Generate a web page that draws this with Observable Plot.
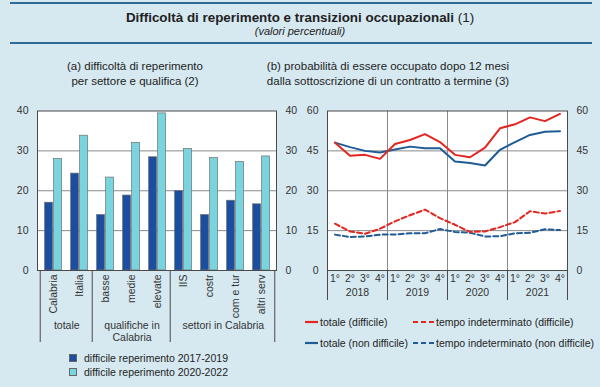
<!DOCTYPE html>
<html>
<head>
<meta charset="utf-8">
<script src="https://cdn.jsdelivr.net/npm/d3@7"></script>
<script src="https://cdn.jsdelivr.net/npm/@observablehq/plot@0.6"></script>
<style>
  html, body { margin: 0; padding: 0; }
  body { width: 600px; height: 387px; background: #d6e9f1; position: relative; overflow: hidden;
         font-family: "Liberation Sans", Arial, sans-serif; color: #222; }
  .hline { position: absolute; left: 10px; width: 582px; height: 2px; background: #2c6b99; }
  .title { position: absolute; left: 0; width: 600px; text-align: center; font-size: 13.4px; top: 10px; }
  .sub { position: absolute; left: 0; width: 600px; text-align: center; font-size: 11px; font-style: italic; top: 25px; }
  .ptitle { position: absolute; transform: translateX(-50%); white-space: nowrap; text-align: center; font-size: 11.5px; line-height: 14.5px; }
  .leg { position: absolute; font-size: 10.5px; white-space: nowrap; display: flex; align-items: center; }
  .sq { width: 6px; height: 6px; border: 0.8px solid #666; margin-right: 7px; }
  #a { position: absolute; left: 0; top: 100px; }
  #b { position: absolute; left: 300px; top: 100px; }
</style>
</head>
<body>
<div class="hline" style="top:2px"></div>
<div class="title"><b>Difficoltà di reperimento e transizioni occupazionali</b> (1)</div>
<div class="sub">(valori percentuali)</div>
<div class="hline" style="top:42px"></div>
<div class="ptitle" style="left:135px; top:59px">(a) difficoltà di reperimento<br>per settore e qualifica (2)</div>
<div class="ptitle" style="left:388px; top:59px">(b) probabilità di essere occupato dopo 12 mesi<br>dalla sottoscrizione di un contratto a termine (3)</div>
<div id="a"></div>
<div id="b"></div>
<div id="legA"></div>
<div id="legB"></div>
<script>
// ---------- DATA ----------
const categories = ["Calabria", "Italia", "basse", "medie", "elevate", "IIS", "costr", "com e tur", "altri serv"];
const groupNames = ["totale", "qualifiche in\nCalabria", "settori in Calabria"];
const groupSizes = [2, 3, 4];
const seriesA = ["difficile reperimento 2017-2019", "difficile reperimento 2020-2022"];
const values2017_2019 = [17.0, 24.3, 13.9, 18.8, 28.4, 19.9, 13.9, 17.5, 16.6];
const values2020_2022 = [28.0, 33.8, 23.3, 32.0, 39.4, 30.5, 28.2, 27.2, 28.6];
const ticksA = [0, 10, 20, 30, 40];

const years = ["2018", "2019", "2020", "2021"];
const quarters = ["1°", "2°", "3°", "4°"];
const seriesB = ["totale (difficile)", "tempo indeterminato (difficile)", "totale (non difficile)", "tempo indeterminato (non difficile)"];
const totaleDifficile = [48.1, 43.2, 43.5, 42.0, 47.6, 49.1, 51.3, 48.3, 43.5, 42.6, 46.2, 53.5, 55.0, 57.6, 56.2, 58.9];
const totaleNonDifficile = [48.1, 46.4, 45.0, 44.4, 45.5, 46.6, 46.0, 46.0, 41.0, 40.4, 39.5, 45.4, 48.3, 51.0, 52.2, 52.4];
const indetDifficile = [17.6, 14.7, 13.8, 15.7, 18.5, 20.8, 22.9, 19.7, 17.2, 14.5, 14.7, 16.3, 18.2, 22.3, 21.4, 22.4];
const indetNonDifficile = [13.5, 12.6, 12.8, 13.5, 13.5, 14.0, 14.0, 15.6, 14.5, 14.2, 12.8, 12.9, 14.0, 14.2, 15.5, 15.2];
const ticksB = [0, 15, 30, 45, 60];

// ---------- STYLE ----------
const darkBar = "#1b4ea1", lightBar = "#78d5e0", barStroke = "#6f6f6f";
const red = "#e3261f", blue = "#1f5b94";
const gridColor = "#8a8a8a", frameColor = "#4a4a4a";
const font = { background: "transparent", fontFamily: "'Liberation Sans', Arial, sans-serif", fontSize: "10.5px", color: "#333" };

// ---------- CHART A ----------
{
  const W = 300, H = 250, mL = 37, mR = 24, mT = 10.5, mB = 80;
  const step = (W - mL - mR) / categories.length;
  const plotH = H - mT - mB;
  const rows = categories.map((c, i) => ({ cat: c, v1: values2017_2019[i], v2: values2020_2022[i] }));
  const firsts = [];
  let k = 0;
  groupSizes.forEach((n, gi) => { firsts.push({ cat: categories[k], n, name: groupNames[gi] }); k += n; });
  const sepMarks = [
    Plot.ruleX(firsts, { x: "cat", dx: -step / 2, stroke: frameColor, strokeWidth: 1, insetTop: plotH, insetBottom: -72 }),
    Plot.ruleX([categories[categories.length - 1]], { x: d => d, dx: step / 2, stroke: frameColor, strokeWidth: 1, insetTop: plotH, insetBottom: -72 })
  ];
  const groupLabels = firsts.map(g => Plot.text([g], {
    x: "cat", text: "name", dx: step * (g.n - 1) / 2, frameAnchor: "bottom", dy: 50,
    lineAnchor: "top", lineHeight: 1.15, fill: "#333", fontSize: 10.5
  }));
  const chart = Plot.plot({
    width: W, height: H, marginLeft: mL, marginRight: mR, marginTop: mT, marginBottom: mB,
    style: font,
    x: { type: "band", domain: categories, padding: 0, label: null },
    y: { domain: [0, 40], label: null },
    marks: [
      Plot.frame({ fill: "white" }),
      Plot.gridY(ticksA.slice(1, -1), { stroke: gridColor, strokeOpacity: 1 }),
      Plot.barY(rows, { x: "cat", y: "v1", fill: darkBar, stroke: barStroke, strokeWidth: 0.7, insetLeft: 4.6, insetRight: step - 13.1 }),
      Plot.barY(rows, { x: "cat", y: "v2", fill: lightBar, stroke: barStroke, strokeWidth: 0.7, insetLeft: 13.6, insetRight: step - 22.1 }),
      Plot.frame({ stroke: frameColor }),
      Plot.axisY(ticksA, { anchor: "left", tickSize: 0, tickPadding: 9, label: null }),
      Plot.axisY(ticksA, { anchor: "right", tickSize: 0, tickPadding: 9, label: null }),
      Plot.axisX({ tickRotate: -90, tickSize: 0, tickPadding: 4, label: null }),
      ...sepMarks,
      ...groupLabels
    ]
  });
  document.getElementById("a").appendChild(chart);
}

// ---------- CHART B ----------
{
  const W = 300, H = 205, mL = 27, mR = 33, mT = 10.5, mB = 35;
  const periods = years.flatMap(y => quarters.map(q => y + " " + q));
  const step = (W - mL - mR) / periods.length;
  const plotH = H - mT - mB;
  const toRows = arr => periods.map((p, i) => ({ p, v: arr[i] }));
  const yearFirst = years.map(y => y + " " + quarters[0]);
  const chart = Plot.plot({
    width: W, height: H, marginLeft: mL, marginRight: mR, marginTop: mT, marginBottom: mB,
    style: font,
    x: { type: "band", domain: periods, padding: 0, label: null },
    y: { domain: [0, 60], label: null },
    marks: [
      Plot.frame({ fill: "white" }),
      Plot.gridY(ticksB.slice(1, -1), { stroke: gridColor, strokeOpacity: 1 }),
      Plot.ruleX(yearFirst.slice(1), { x: d => d, dx: -step / 2, stroke: gridColor }),
      Plot.line(toRows(indetNonDifficile), { x: "p", y: "v", stroke: blue, strokeWidth: 2, strokeDasharray: "5,3" }),
      Plot.line(toRows(indetDifficile), { x: "p", y: "v", stroke: red, strokeWidth: 2, strokeDasharray: "5,3" }),
      Plot.line(toRows(totaleNonDifficile), { x: "p", y: "v", stroke: blue, strokeWidth: 2 }),
      Plot.line(toRows(totaleDifficile), { x: "p", y: "v", stroke: red, strokeWidth: 2 }),
      Plot.frame({ stroke: frameColor }),
      Plot.axisY(ticksB, { anchor: "left", tickSize: 0, tickPadding: 9, label: null }),
      Plot.axisY(ticksB, { anchor: "right", tickSize: 0, tickPadding: 9, label: null }),
      Plot.axisX({ tickSize: 0, tickPadding: 4, tickFormat: d => d.split(" ")[1], label: null }),
      Plot.ruleX(yearFirst, { x: d => d, dx: -step / 2, stroke: frameColor, insetTop: plotH, insetBottom: -30 }),
      Plot.ruleX([periods[periods.length - 1]], { x: d => d, dx: step / 2, stroke: frameColor, insetTop: plotH, insetBottom: -30 }),
      Plot.text(years, { x: d => d + " " + quarters[1], text: d => d, dx: step / 2, frameAnchor: "bottom", dy: 18, lineAnchor: "top", fill: "#333", fontSize: 10.5 })
    ]
  });
  document.getElementById("b").appendChild(chart);
}

// ---------- LEGENDS ----------
{
  const la = document.getElementById("legA");
  [darkBar, lightBar].forEach((c, i) => {
    const d = document.createElement("div");
    d.className = "leg";
    d.style.left = "69px"; d.style.top = (352 + i * 13.5) + "px";
    d.innerHTML = `<span class="sq" style="background:${c}"></span><span>${seriesA[i]}</span>`;
    la.appendChild(d);
  });
  const lb = document.getElementById("legB");
  const colors = [red, red, blue, blue];
  const dashed = [false, true, false, true];
  const lefts = [305, 413, 305, 413];
  const tops = [316, 316, 337, 337];
  seriesB.forEach((s, i) => {
    const d = document.createElement("div");
    d.className = "leg";
    d.style.left = lefts[i] + "px"; d.style.top = tops[i] + "px";
    const w = dashed[i] ? 21 : 13;
    const dash = dashed[i] ? `stroke-dasharray="5,3"` : "";
    d.innerHTML = `<svg width="${w}" height="4" style="margin-right:2px"><line x1="0" y1="2" x2="${w}" y2="2" stroke="${colors[i]}" stroke-width="2.2" ${dash}/></svg><span>${s}</span>`;
    lb.appendChild(d);
  });
}
</script>
</body>
</html>
